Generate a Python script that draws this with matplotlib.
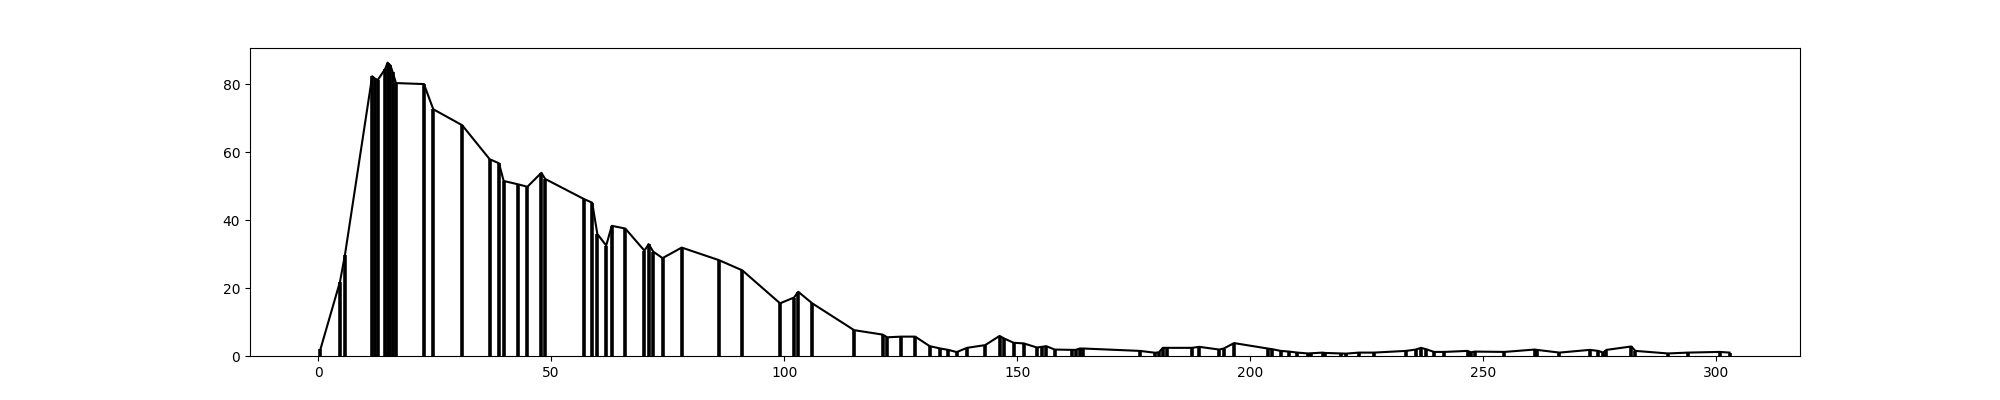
import matplotlib
matplotlib.use("Agg")
import matplotlib.pyplot as plt

x_vals = [0.5, 4.7, 5.75, 11.6, 12.2, 12.8, 14.4, 14.9, 15.5, 16.0, 16.7, 22.7, 24.7, 30.9,
          36.8, 38.8, 39.8, 42.9, 44.9, 47.9, 48.7, 57.0, 58.8, 59.9, 61.8, 63.0, 65.9, 70.0,
          70.9, 71.9, 73.9, 78.0, 86.0, 91.0, 99.1, 102.1, 103.0, 106.0, 115.0, 121.1, 122.1,
          125.1, 128.1, 131.2, 133.5, 135.2, 137.0, 139.2, 143.1, 146.2, 147.1, 149.2, 151.4,
          154.2, 155.3, 156.2, 158.0, 161.7, 162.5, 163.4, 164.2, 176.3, 179.6, 180.4, 181.2,
          182.2, 187.5, 189.0, 193.3, 194.3, 196.5, 203.7, 204.7, 206.5, 208.3, 210.1, 212.3,
          213.0, 215.5, 216.0, 219.4, 220.5, 223.3, 226.5, 233.4, 235.5, 236.6, 237.7, 239.4,
          241.6, 246.6, 247.3, 248.2, 254.5, 261.0, 261.5, 266.3, 272.8, 274.6, 275.7, 276.4,
          281.7, 282.6, 289.6, 293.9, 300.7, 302.8]
y_vals = [2, 21.9, 29.7, 82.3, 81.6, 81.2, 84.5, 86.3, 85.5, 83.5, 80.3, 80.0, 72.6, 67.9,
          57.9, 56.7, 51.5, 50.5, 49.8, 53.9, 52.1, 46.2, 45.1, 35.9, 32.5, 38.3, 37.5, 31.0,
          32.9, 30.7, 28.8, 31.9, 28.2, 25.2, 15.5, 17.2, 18.9, 15.5, 7.6, 6.3, 5.5,
          5.7, 5.7, 2.9, 2.2, 1.8, 1.15, 2.4, 3.2, 5.9, 5.2, 3.9, 3.7,
          2.5, 2.7, 2.9, 1.9, 1.8, 1.8, 2.2, 2.2, 1.5, 0.95, 1.1, 2.4,
          2.4, 2.4, 2.7, 1.9, 2.2, 3.8, 2.2, 2.0, 1.5, 1.3, 1.0, 0.75,
          0.8, 1.0, 0.9, 0.75, 0.7, 1.0, 1.0, 1.5, 1.9, 2.4, 2.0, 1.2,
          1.2, 1.5, 1.1, 1.3, 1.2, 1.9, 1.8, 1.0, 1.8, 1.5, 1.0, 1.8,
          2.8, 1.5, 0.75, 1.0, 1.2, 1.0]

fig, ax = plt.subplots(figsize=(20, 4), dpi=100)
ax.plot(x_vals, y_vals, color="black", linewidth=1.5)
ax.vlines(x_vals, 0, y_vals, color="black", linewidth=2.6)
ax.set_ylim(bottom=0)
fig.savefig("out.png", dpi=100)
